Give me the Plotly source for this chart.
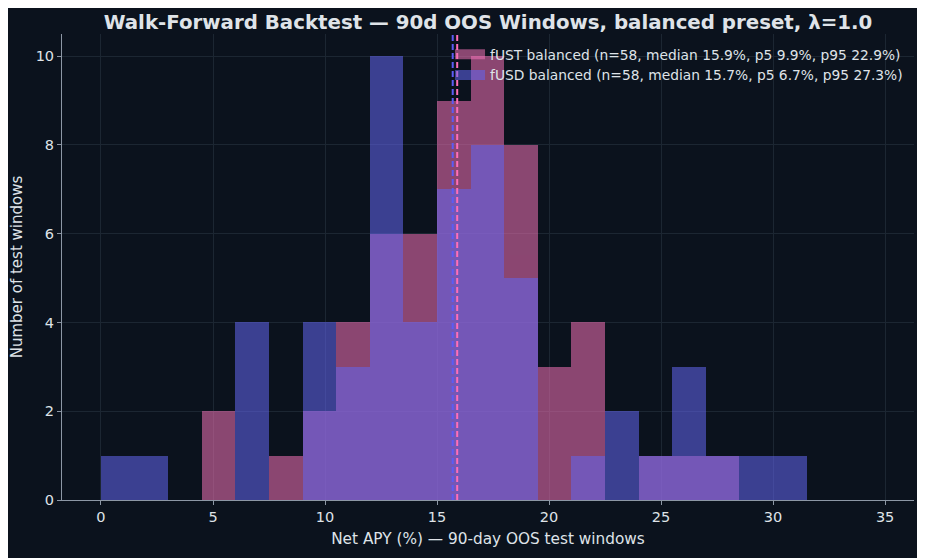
import plotly.graph_objects as go

# Bin edges (left edges) shared by both series, bin width 1.5
bin_left = [0.0, 1.5, 3.0, 4.5, 6.0, 7.5, 9.0, 10.5, 12.0, 13.5, 15.0, 16.5,
            18.0, 19.5, 21.0, 22.5, 24.0, 25.5, 27.0, 28.5, 30.0]
bin_width = 1.5

fust_counts = [0, 0, 0, 2, 0, 1, 2, 4, 6, 6, 9, 10, 8, 3, 4, 0, 1, 1, 1, 0, 0]
fusd_counts = [1, 1, 0, 0, 4, 0, 4, 3, 10, 4, 7, 8, 5, 0, 1, 2, 1, 3, 1, 1, 1]

series_names = [
    "fUST balanced (n=58, median 15.9%, p5 9.9%, p95 22.9%)",
    "fUSD balanced (n=58, median 15.7%, p5 6.7%, p95 27.3%)",
]
medians = [15.9, 15.7]

bar_colors = ["#f472b6", "#6366f1"]
legend_colors = ["rgba(244,114,182,0.55)", "rgba(99,102,241,0.55)"]
line_colors = ["#ff6eb8", "#5c5cf5"]

BG = "#0b121d"
GRID = "#1c2632"
TEXT = "#dfe3e8"
SPINE = "#8d97a5"

centers = [b + bin_width / 2 for b in bin_left]

fig = go.Figure()
for name, counts, col in zip(series_names, [fust_counts, fusd_counts], bar_colors):
    fig.add_trace(go.Bar(
        x=centers, y=counts, width=bin_width, name=name,
        marker=dict(color=col, line=dict(width=0)),
        opacity=0.55, showlegend=False,
    ))

# legend patches (wide rectangles, like the reference)
for name, col in zip(series_names, legend_colors):
    fig.add_trace(go.Scatter(
        x=[None], y=[None], mode="lines", name=name,
        line=dict(color=col, width=13), hoverinfo="skip",
    ))

for m, col in zip(medians, line_colors):
    fig.add_shape(type="line", xref="x", yref="paper", x0=m, x1=m, y0=0, y1=1,
                  line=dict(color=col, width=2, dash="6px,3px"), layer="above")

# page body has an 8px offset; margins compensate
fig.update_layout(
    width=925, height=558,
    barmode="overlay", bargap=0,
    paper_bgcolor=BG, plot_bgcolor=BG,
    font=dict(family="DejaVu Sans", color=TEXT, size=13),
    margin=dict(l=54, r=19, t=26, b=66, autoexpand=False),
    title=dict(text="<b>Walk-Forward Backtest — 90d OOS Windows, balanced preset, λ=1.0</b>",
               x=0.5, xref="paper", xanchor="center", y=1 - 14 / 558, yanchor="middle",
               font=dict(size=19.8, color=TEXT)),
    legend=dict(x=0.993, xanchor="right", y=0.99, yanchor="top",
                bgcolor="rgba(0,0,0,0)", font=dict(size=13.8, color=TEXT),
                itemwidth=30, tracegroupgap=0),
    showlegend=True,
)
fig.update_xaxes(
    range=[-1.74, 36.29], tickvals=[0, 5, 10, 15, 20, 25, 30, 35],
    showgrid=True, gridcolor=GRID, gridwidth=1, zeroline=False,
    showline=True, linecolor=SPINE, linewidth=1,
    ticks="outside", ticklen=4, tickcolor=SPINE, automargin=False,
    tickfont=dict(size=14.5, color=TEXT),
    title=dict(text="Net APY (%) — 90-day OOS test windows", font=dict(size=15.3, color=TEXT), standoff=8),
)
fig.update_yaxes(
    range=[0, 10.5], tickvals=[0, 2, 4, 6, 8, 10],
    showgrid=True, gridcolor=GRID, gridwidth=1, zeroline=False,
    showline=True, linecolor=SPINE, linewidth=1,
    ticks="outside", ticklen=4, tickcolor=SPINE, automargin=False,
    tickfont=dict(size=14.5, color=TEXT),
    title=dict(text="Number of test windows", font=dict(size=15, color=TEXT), standoff=10),
)

fig.write_html("out.html")
